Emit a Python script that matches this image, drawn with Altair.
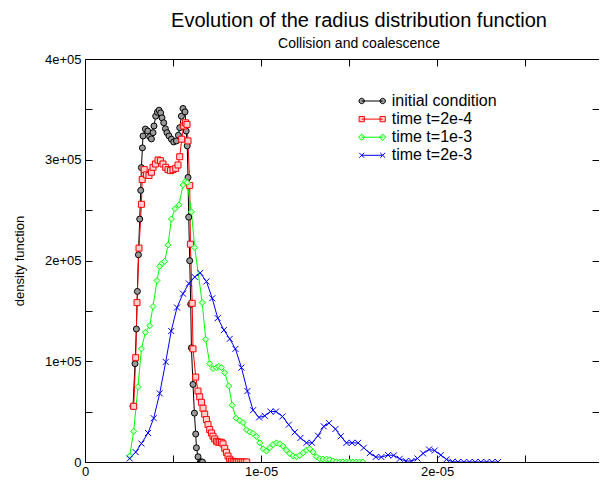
import altair as alt
import pandas as pd

# ---------------- data (radius in micrometres, density in thousands) ----------------
series_names = ["initial condition", "time t=2e-4", "time t=1e-3", "time t=2e-3"]

init_r = [2.727, 2.841, 2.920, 2.977, 3.034, 3.108, 3.165, 3.205, 3.261, 3.295, 3.432, 3.563,
          3.676, 3.773, 3.864, 3.920, 4.017, 4.114, 4.205, 4.301, 4.375, 4.472, 4.568, 4.659,
          4.773, 4.909, 5.040, 5.193, 5.307, 5.381, 5.477, 5.568, 5.682, 5.750, 5.807, 5.852,
          5.892, 5.949, 6.006, 6.045, 6.136, 6.216, 6.290, 6.330, 6.420, 6.557, 6.614, 6.670]
init_f = [55.3, 97.6, 132.0, 169.3, 205.7, 241.1, 269.6, 292.2, 311.8, 323.6, 330.5, 328.5,
          322.9, 320.7, 326.9, 333.5, 343.3, 347.2, 349.2, 346.5, 341.6, 336.7, 330.8, 326.9,
          323.6, 320.4, 317.7, 318.7, 324.3, 331.8, 343.3, 350.9, 347.5, 328.5, 313.8, 282.4,
          243.0, 199.8, 156.6, 113.3, 77.0, 48.5, 27.8, 14.1, 5.2, 0, 0, 0]

t1_r = [2.767, 2.881, 2.955, 3.068, 3.205, 3.250, 3.364, 3.489, 3.636, 3.773, 3.864, 4.000,
        4.148, 4.284, 4.432, 4.585, 4.716, 4.852, 5.000, 5.153, 5.284, 5.381, 5.494, 5.608,
        5.705, 5.795, 5.852, 5.949, 5.989, 6.091, 6.136, 6.290, 6.420, 6.517, 6.614, 6.705,
        6.801, 6.898, 6.989, 7.085, 7.182, 7.273, 7.369, 7.466, 7.557, 7.653, 7.750, 7.841,
        7.938, 8.034, 8.125, 8.222, 8.318, 8.420, 8.523, 8.619, 8.733, 8.847, 8.960, 9.074, 9.188]
t1_f = [55.3, 103.5, 158.2, 212.3, 255.8, 280.4, 290.2, 285.0, 284.3, 287.6, 292.5, 295.8,
        299.8, 299.1, 295.8, 292.5, 290.2, 289.2, 290.2, 291.5, 294.8, 303.0, 320.4, 333.5,
        336.7, 335.1, 318.7, 274.5, 216.2, 157.5, 112.3, 84.3, 70.4, 64.7, 59.3, 53.4,
        47.5, 42.1, 37.1, 32.2, 28.8, 25.6, 22.9, 20.6, 19.7, 19.7, 19.5, 18.0,
        13.6, 9.6, 5.9, 2.8, 1.0, 0.3, 0, 0, 0, 0, 0, 0, 0]

t2_r = [2.540, 2.767, 3.011, 3.205, 3.432, 3.676, 3.864, 4.091, 4.244, 4.386, 4.528, 4.716,
        4.909, 5.114, 5.341, 5.568, 5.693, 5.807, 6.045, 6.233, 6.659, 6.858, 7.085, 7.273,
        7.466, 7.597, 7.750, 7.938, 8.165, 8.364, 8.580, 8.790, 8.977, 9.170, 9.358, 9.545,
        9.739, 9.926, 10.114, 10.307, 10.494, 10.682, 10.875, 11.063, 11.250, 11.443, 11.631,
        11.818, 12.011, 12.199, 12.386, 12.580, 12.767, 12.955, 13.148, 13.335, 13.523, 13.716,
        13.903, 14.091, 14.284, 14.472, 14.659, 14.847, 15.034, 15.222, 15.409, 15.597, 15.784]
t2_f = [5.9, 30.5, 74.7, 112.3, 128.7, 135.2, 154.3, 180.1, 194.2, 197.3, 199.1, 215.5,
        241.1, 251.4, 255.3, 275.0, 278.4, 277.4, 248.3, 212.9, 158.2, 121.7, 97.6, 92.7,
        93.7, 94.9, 93.7, 88.7, 75.5, 56.3, 43.5, 41.1, 39.1, 32.0, 29.8, 28.3,
        25.4, 19.0, 13.1, 10.8, 14.1, 17.3, 19.0, 18.0, 15.7, 11.8, 8.5,
        5.9, 5.2, 6.5, 9.1, 11.8, 13.1, 9.8, 5.2, 3.2, 2.9, 2.8,
        2.3, 1.0, 0.3, 0, 0, 0, 0, 0, 0, 0, 0]

t3_r = [2.540, 2.881, 3.205, 3.580, 3.903, 4.244, 4.585, 4.898, 5.227, 5.568, 5.903, 6.233,
        6.545, 6.898, 7.227, 7.540, 7.892, 8.222, 8.545, 8.886, 9.227, 9.545, 9.886, 10.210,
        10.534, 10.852, 11.216, 11.574, 11.915, 12.239, 12.580, 12.898, 13.239, 13.563, 13.864,
        14.227, 14.528, 14.852, 15.170, 15.511, 15.835, 16.176, 16.517, 16.841, 17.216, 17.540,
        17.881, 18.222, 18.545, 18.886, 19.205, 19.545, 19.869, 20.210, 20.534, 20.875, 21.193,
        21.517, 21.841, 22.165, 22.489, 22.813, 23.137, 23.461]
t3_f = [3.5, 9.8, 18.3, 28.8, 43.5, 68.1, 99.3, 130.0, 153.3, 167.1, 177.2, 183.6,
        187.7, 179.2, 162.5, 142.8, 131.0, 122.2, 112.3, 93.7, 70.4, 51.4, 44.2, 45.8,
        50.1, 50.1, 45.2, 37.0, 29.5, 23.9, 19.0, 19.0, 26.1, 35.4, 38.6,
        32.7, 25.6, 19.0, 19.0, 19.0, 14.1, 8.8, 5.0, 4.9, 6.9, 6.5,
        3.2, 1.0, 1.0, 3.5, 8.5, 12.4, 11.4, 6.9, 2.6, 0.3, 0,
        0, 0, 0, 0, 0, 0, 0]

x_ticks = [0, 5e-6, 1e-5, 1.5e-5, 2e-5, 2.5e-5]
y_ticks = [0, 5e4, 1e5, 1.5e5, 2e5, 2.5e5, 3e5, 3.5e5, 4e5]
x_max = 29.2e-6
y_max = 4e5

line_colors = ["#000000", "#ff0000", "#00ff00", "#0000ff"]
fill_colors = ["#9a9a9a", "#ffd0d0", "#d0ffd0", "#0000ff"]
marker_shapes = ["circle", "square", "diamond", "M-1,-1L1,1M-1,1L1,-1"]
legend_shapes = [
    "M-1.3125,0L1.3125,0"
    "M-1.65,0A0.3375,0.3375 0 1,0 -0.975,0A0.3375,0.3375 0 1,0 -1.65,0"
    "M0.975,0A0.3375,0.3375 0 1,0 1.65,0A0.3375,0.3375 0 1,0 0.975,0",
    "M-1.3125,0L1.3125,0M-1.64,-0.33H-0.98V0.33H-1.64ZM0.98,-0.33H1.64V0.33H0.98Z",
    "M-1.3125,0L1.3125,0M-1.71,0L-1.3125,-0.4L-0.91,0L-1.3125,0.4Z"
    "M0.91,0L1.3125,-0.4L1.71,0L1.3125,0.4Z",
    "M-1.3125,0L1.3125,0M-1.62,-0.31L-1.0,0.31M-1.62,0.31L-1.0,-0.31"
    "M1.0,-0.31L1.62,0.31M1.0,0.31L1.62,-0.31",
]

rows = []
for name, rs, fs in zip(series_names, [init_r, t1_r, t2_r, t3_r], [init_f, t1_f, t2_f, t3_f]):
    for i, (r, f) in enumerate(zip(rs, fs)):
        rows.append({"series": name, "r": r * 1e-6, "f": f * 1e3, "order": i})
df = pd.DataFrame(rows)

W, H = 514, 403
FONT = "Liberation Sans"

xscale = alt.Scale(domain=[0, x_max], nice=False, zero=False)
yscale = alt.Scale(domain=[0, y_max], nice=False)

x_axis_main = alt.Axis(
    orient="bottom", values=x_ticks,
    labelExpr="datum.value == 0 ? '0' : (round(datum.value*2e5) % 2 == 0 ? round(datum.value*1e5) + 'e-05' : '')",
    domain=True, domainColor="black", domainWidth=1, ticks=False,
    grid=True, gridColor="black", gridWidth=1, gridOpacity=1, gridDash=[7, H - 14, 7, 3000],
    labelFont=FONT, labelFontSize=13, labelColor="black", labelPadding=3,
    labelFlush=False, labelOverlap=False, title=None)
y_axis_main = alt.Axis(
    orient="left", values=y_ticks,
    labelExpr="datum.value == 0 ? '0' : (round(datum.value/5e4) % 2 == 0 ? round(datum.value/1e5) + 'e+05' : '')",
    domain=True, domainColor="black", domainWidth=1, ticks=False,
    grid=True, gridColor="black", gridWidth=1, gridOpacity=1, gridDash=[7, W - 14, 7, 3000],
    labelFont=FONT, labelFontSize=13, labelColor="black", labelPadding=4,
    labelFlush=False, labelOverlap=False,
    title="density function", titleFont=FONT, titleFontSize=13, titleFontWeight="normal",
    titleColor="black", titlePadding=18)
x_axis_top = alt.Axis(orient="top", domain=True, domainColor="black", domainWidth=1,
                      ticks=False, labels=False, grid=False, title=None)

lines = alt.Chart(df).mark_line(strokeWidth=1, clip=True).encode(
    x=alt.X("r:Q", scale=xscale, axis=x_axis_main),
    y=alt.Y("f:Q", scale=yscale, axis=y_axis_main),
    color=alt.Color("series:N", scale=alt.Scale(domain=series_names, range=line_colors), legend=None),
    order="order:Q",
)

points = alt.Chart(df).mark_point(size=36, strokeWidth=1, opacity=1, clip=True).encode(
    x=alt.X("r:Q", scale=xscale, axis=x_axis_top),
    y=alt.Y("f:Q", scale=yscale, axis=None),
    shape=alt.Shape("series:N", scale=alt.Scale(domain=series_names, range=marker_shapes), legend=None),
    stroke=alt.Stroke("series:N", scale=alt.Scale(domain=series_names, range=line_colors), legend=None),
    fill=alt.Fill("series:N", scale=alt.Scale(domain=series_names, range=fill_colors), legend=None),
)

legend = alt.Legend(orient="none", legendX=278.7, legendY=33.5, title=None,
                    labelFont=FONT, labelFontSize=16, labelColor="black",
                    symbolSize=256, symbolStrokeWidth=1, symbolOpacity=1,
                    labelOffset=11, rowPadding=1.1, padding=0, labelLimit=300)

legend_layer = alt.Chart(df).mark_point(size=36, opacity=0).encode(
    x=alt.X("r:Q", scale=xscale, axis=None),
    y=alt.Y("f:Q", scale=yscale, axis=None),
    shape=alt.Shape("series:N", scale=alt.Scale(domain=series_names, range=legend_shapes), legend=legend),
    stroke=alt.Stroke("series:N", scale=alt.Scale(domain=series_names, range=line_colors), legend=legend),
    fill=alt.Fill("series:N", scale=alt.Scale(domain=series_names, range=fill_colors), legend=legend),
)

chart = alt.layer(lines, points, legend_layer).resolve_scale(
    shape="independent", stroke="independent", fill="independent"
).resolve_axis(x="independent", y="independent").properties(
    width=W, height=H,
    padding={"left": 77, "top": 51, "right": 0, "bottom": 16},
    autosize="none",
    background="white",
    title=alt.Title("Evolution of the radius distribution function",
                    subtitle="Collision and coalescence",
                    font=FONT, fontSize=20, fontWeight="normal", color="black",
                    subtitleFont=FONT, subtitleFontSize=14, subtitleColor="black",
                    anchor="middle", frame="group", dx=17, offset=2, subtitlePadding=6),
).configure_view(strokeWidth=0)

chart.save("out.html", embed_options={"renderer": "svg", "actions": False})
